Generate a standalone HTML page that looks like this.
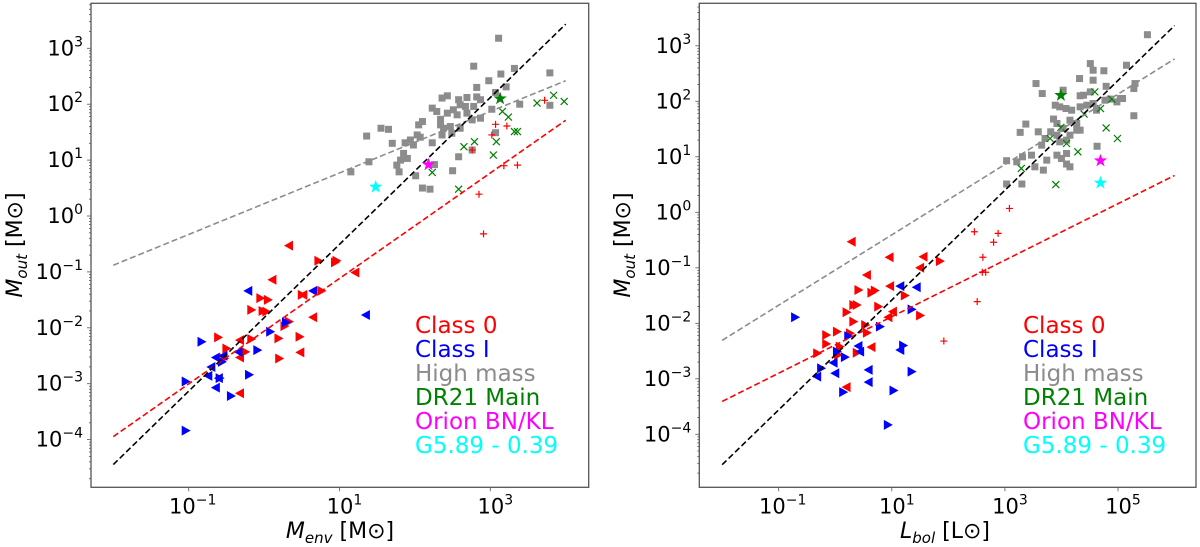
<!DOCTYPE html>
<html><head><meta charset="utf-8"><style>
html,body{margin:0;padding:0;background:#fff;}
svg{display:block;font-family:"DejaVu Sans","Liberation Sans",sans-serif;}
</style></head><body>
<svg id="chart" width="1200" height="547" viewBox="0 0 1200 547"></svg>
<script>
// ---------- Data (log10 values) ----------
// Left panel: M_out vs M_env
const hmEnvX=[3.11,2.78,3.14,3.32,3.79,2.98,2.82,3.21,3.07,2.43,2.36,2.58,2.69,2.82,2.60,2.51,2.67,2.78,2.87,2.23,2.29,2.43,2.56,2.69,2.87,3.02,3.39,3.79,1.55,1.65,2.05,2.10,2.34,2.38,2.47,2.60,1.36,1.70,1.87,1.94,2.03,2.07,2.23,2.36,2.49,3.07,1.98,1.85,1.90,1.76,1.81,1.39,1.15,1.79,2.26,2.01,2.50,2.58,2.76,2.10,2.20,2.34,2.76];
const hmEnvY=[3.18,2.68,2.54,2.64,2.56,2.42,2.30,2.31,2.21,2.15,2.11,2.08,2.12,2.13,1.99,1.90,1.96,1.96,2.08,1.93,1.87,1.84,1.81,1.84,1.75,1.91,2.00,1.98,1.57,1.55,1.63,1.69,1.63,1.57,1.60,1.57,1.43,1.30,1.31,1.36,1.45,1.41,1.31,1.45,1.48,1.49,1.27,1.12,1.03,0.91,1.00,0.97,0.79,0.79,0.92,0.72,0.81,1.06,1.18,0.50,0.48,1.73,1.72];
const dr21EnvX=[2.65,2.79,2.23,3.04,3.08,3.16,3.24,3.32,3.36,3.62,3.84,3.98,2.58];
const dr21EnvY=[1.24,1.33,0.78,1.09,1.33,1.87,1.77,1.51,1.51,2.02,2.16,2.05,0.48];
const plusEnvX=[3.07,3.22,3.02,2.76,3.18,3.36,2.85,2.91,3.72];
const plusEnvY=[1.64,1.61,1.45,1.18,0.90,0.91,0.39,-0.32,2.07];
const c0EnvX=[0.33,0.72,0.94,0.96,1.21,0.11,0.50,0.52,0.76,-0.05,0.05,-0.17,-0.02,0.03,0.65,0.27,0.33,-0.61,-0.32,-0.17,0.19,0.47,-0.50,-0.32,-0.25,0.20,0.48,-0.32,-0.53];
const c0EnvY=[-0.53,-0.80,-0.83,-0.80,-1.01,-1.14,-1.41,-1.41,-1.34,-1.47,-1.50,-1.68,-1.70,-1.71,-1.81,-1.97,-1.89,-2.17,-2.22,-2.20,-2.19,-2.16,-2.37,-2.53,-2.43,-2.55,-2.44,-3.17,-2.55];
const c0EnvDir=['L','R','R','R','L','L','R','L','R','R','R','R','R','R','L','R','R','R','L','R','R','R','R','L','R','R','L','L','R'];
const c1EnvX=[-0.21,0.65,1.35,0.29,0.08,-0.83,-0.64,-0.54,-0.34,-0.09,-0.70,-0.56,-0.74,-0.59,-0.60,-0.20,-0.64,-0.44,-1.04,-1.04];
const c1EnvY=[-1.34,-1.34,-1.77,-1.90,-2.07,-2.25,-2.53,-2.50,-2.43,-2.40,-2.70,-2.61,-2.86,-2.90,-2.90,-2.84,-3.07,-3.22,-2.96,-3.84];
const c1EnvDir=['L','L','L','R','R','R','L','L','L','R','L','R','L','R','L','R','L','R','R','R'];
const starsEnvX=[3.13,2.18,1.48];
const starsEnvY=[2.10,0.92,0.52];
// fits: [slope, intercept]
const fitEnvAll=[1.313,-1.82];
const fitEnvLow=[0.943,-2.06];
const fitEnvHigh=[0.55,0.22];

// Right panel: M_out vs L_bol
const hmLbolX=[5.52,4.51,4.56,4.75,5.15,4.32,3.55,3.66,4.03,4.79,5.30,5.28,4.33,4.51,4.39,3.89,3.97,4.08,4.33,4.45,4.56,4.77,4.86,4.98,5.08,4.62,4.18,5.28,3.37,3.86,3.92,4.03,4.15,4.27,4.33,3.27,3.59,3.81,3.92,4.15,4.27,3.71,3.65,3.97,4.09,3.31,3.47,3.03,3.21,3.92,4.09,4.00,4.09,4.15,3.53,3.68,3.74,4.63,3.03,3.30,4.56,5.04];
const hmLbolY=[3.20,2.68,2.56,2.55,2.65,2.41,2.32,2.14,2.20,2.27,2.32,2.23,2.10,2.17,2.11,1.93,1.90,1.87,1.90,1.93,1.96,2.02,2.04,1.99,2.05,1.84,1.84,1.74,1.59,1.68,1.60,1.51,1.66,1.60,1.48,1.44,1.45,1.45,1.39,1.39,1.48,1.33,1.21,1.27,1.30,1.00,1.03,0.93,0.91,1.03,1.06,0.97,0.87,0.82,0.82,0.76,0.94,1.19,0.51,0.51,2.38,2.05];
const dr21LbolX=[4.59,4.89,4.69,4.40,3.99,3.80,4.09,4.79,4.99,4.29,3.29,3.90];
const dr21LbolY=[2.17,2.04,1.87,1.77,1.53,1.33,1.24,1.52,1.33,1.09,0.79,0.50];
const plusLbolX=[1.92,2.51,2.60,2.66,2.61,2.80,2.88,2.46,3.08];
const plusLbolY=[-2.32,-1.61,-1.08,-1.08,-0.81,-0.54,-0.38,-0.35,0.07];
const c0LbolX=[0.29,0.96,1.56,1.85,1.50,0.56,0.41,0.64,0.70,0.97,1.23,0.32,0.38,0.20,0.76,1.02,0.94,1.50,0.32,0.53,-0.16,0.03,0.26,0.56,-0.16,0.08,0.64,0.38,-0.32,0.20,0.05];
const c0LbolY=[-0.53,-0.81,-0.80,-0.88,-1.00,-1.13,-1.40,-1.45,-1.41,-1.33,-1.50,-1.67,-1.67,-1.80,-1.70,-1.79,-1.89,-1.86,-1.97,-2.03,-2.21,-2.15,-2.18,-2.17,-2.37,-2.42,-2.43,-2.53,-2.54,-3.15,-2.57];
const c0LbolDir=['L','L','L','R','L','L','R','R','R','L','R','R','R','R','R','L','L','R','R','R','R','R','R','R','R','R','L','R','R','L','R'];
const c1LbolX=[-0.71,1.15,1.44,1.35,0.79,0.23,0.41,0.44,0.03,0.17,-0.03,1.20,1.15,-0.25,-0.32,0.00,0.59,0.59,1.35,0.14,1.03,0.93];
const c1LbolY=[-1.89,-1.33,-1.35,-1.75,-2.06,-2.23,-2.41,-2.51,-2.51,-2.61,-2.71,-2.40,-2.48,-2.81,-2.96,-2.90,-2.84,-3.06,-2.87,-3.24,-3.21,-3.83];
const c1LbolDir=['R','L','L','R','R','R','L','L','R','R','L','R','L','R','L','L','L','L','R','R','R','R'];
const starsLbolX=[3.99,4.69,4.69];
const starsLbolY=[2.11,0.93,0.53];
const fitLbolAll=[0.989,-2.57];
const fitLbolLow=[0.509,-2.39];
const fitLbolHigh=[0.634,-1.04];

const xTicksEnv=[-1,1,3];
const xTicksLbol=[-1,1,3,5];
const yTicks=[-4,-3,-2,-1,0,1,2,3];
const legendLabels=['Class 0','Class I','High mass','DR21 Main','Orion BN/KL','G5.89 - 0.39'];
const legendColors=['#ff0000','#0000ff','#8c8c8c','#008000','#ff00ff','#00ffff'];
const starColors=['#008000','#ff00ff','#00ffff'];

const NS='http://www.w3.org/2000/svg';
const svg=document.getElementById('chart');
function mk(tag,attrs,parent){const e=document.createElementNS(NS,tag);for(const k in attrs)e.setAttribute(k,attrs[k]);(parent||svg).appendChild(e);return e;}

function axisFns(p){
  const sx=v=>p.x0+(v-p.xmin)/(p.xmax-p.xmin)*(p.x1-p.x0);
  const sy=v=>p.y1-(v-p.ymin)/(p.ymax-p.ymin)*(p.y1-p.y0);
  return [sx,sy];
}
function starPath(cx,cy,r){let d='';for(let i=0;i<10;i++){const rr=i%2?r*0.4:r;const a=-Math.PI/2+i*Math.PI/5;d+=(i?'L':'M')+(cx+rr*Math.cos(a)).toFixed(2)+','+(cy+rr*Math.sin(a)).toFixed(2);}return d+'Z';}

function drawPanel(p){
  const [sx,sy]=axisFns(p);
  const g=mk('g',{});
  
  
  const clipId='clip-'+p.name;
  const cp=mk('clipPath',{id:clipId},g);
  mk('rect',{x:p.x0,y:p.y0,width:p.x1-p.x0,height:p.y1-p.y0},cp);
  const plot=mk('g',{'clip-path':'url(#'+clipId+')'},g);
  
  
  // gray squares
  p.hmX.forEach((v,i)=>{const s=mk('rect',{x:sx(v)-3.5,y:sy(p.hmY[i])-3.5,width:7,height:7,fill:'#8c8c8c'},plot);
    
    });
  // dr21 x
  p.drX.forEach((v,i)=>{const cx=sx(v),cy=sy(p.drY[i]);const e=mk('path',{d:`M${cx-3.5},${cy-3.5}L${cx+3.5},${cy+3.5}M${cx-3.5},${cy+3.5}L${cx+3.5},${cy-3.5}`,stroke:'#008000','stroke-width':1.2,fill:'none'},plot);
    
    });
  // plus
  p.plX.forEach((v,i)=>{const cx=sx(v),cy=sy(p.plY[i]);const e=mk('path',{d:`M${cx-3.5},${cy}L${cx+3.5},${cy}M${cx},${cy-3.5}L${cx},${cy+3.5}`,stroke:'#ff0000','stroke-width':1.2,fill:'none'},plot);
    
    });
  // triangles
  function tri(xs,ys,ds,col,nm){xs.forEach((v,i)=>{const cx=sx(v),cy=sy(ys[i]);const s=ds[i]==='R'?1:-1;
    const e=mk('path',{d:`M${cx+5*s},${cy}L${cx-4*s},${cy-5}L${cx-4*s},${cy+5}Z`,fill:col},plot);
    
    });}
  tri(p.c0X,p.c0Y,p.c0D,'#ff0000','class0-point');
  tri(p.c1X,p.c1Y,p.c1D,'#0000ff','class1-point');
  // fit lines
  function fit(f,col,nm){const a=-2,b=p.fitEnd;const e=mk('line',{x1:sx(a),y1:sy(f[0]*a+f[1]),x2:sx(b),y2:sy(f[0]*b+f[1]),stroke:col,'stroke-width':1.6,'stroke-dasharray':'6,3'},plot);
    
    }
  fit(p.fHigh,'#8c8c8c','fit-high-mass');
  fit(p.fLow,'#ff0000','fit-low-mass');
  fit(p.fAll,'#000000','fit-all');
  // stars
  p.stX.forEach((v,i)=>{const e=mk('path',{d:starPath(sx(v),sy(p.stY[i]),7),fill:starColors[i]},plot);
    
    });
  // frame
  const fr=mk('rect',{x:p.x0,y:p.y0,width:p.x1-p.x0,height:p.y1-p.y0,fill:'none',stroke:'#555','stroke-width':1.3},g);
  
  
  // y ticks
  for(let d=Math.floor(p.ymin);d<=Math.ceil(p.ymax);d++){
    for(let m=1;m<10;m++){const v=d+Math.log10(m);if(v<p.ymin||v>p.ymax)continue;const y=sy(v);
      mk('line',{x1:p.x0,x2:p.x0-(m===1?4:2),y1:y,y2:y,stroke:'#555','stroke-width':0.8},g);}
  }
  yTicks.forEach(t=>{const y=sy(t);const tx=mk('text',{x:p.x0-8,y:y+7,'text-anchor':'end','font-size':21,fill:'#000'},g);
    
    
    tx.appendChild(document.createTextNode('10'));
    const ts=mk('tspan',{dy:-9,'font-size':14},tx);ts.textContent=t<0?'\u2212'+(-t):String(t);});
  p.xTicks.forEach(t=>{const x=sx(t);mk('line',{x1:x,x2:x,y1:p.y1,y2:p.y1+4,stroke:'#555','stroke-width':0.8},g);
    const tx=mk('text',{x:x+(t<0?4:5),y:p.y1+26,'text-anchor':'middle','font-size':21,fill:'#000'},g);
    
    
    tx.appendChild(document.createTextNode('10'));
    const ts=mk('tspan',{dy:-9,'font-size':14},tx);ts.textContent=t<0?'\u2212'+(-t):String(t);});
  // axis titles
  const xt=mk('text',{x:p.xTitleX,y:538,'text-anchor':'middle','font-size':22,fill:'#000'},g);
  
  
  const a1=mk('tspan',{'font-style':'italic'},xt);a1.textContent=p.xVar;
  const a2=mk('tspan',{'font-style':'italic','font-size':15,dy:5},xt);a2.textContent=p.xSub;
  const a3=mk('tspan',{dy:-5},xt);a3.textContent=' ['+p.xUnit+'\u2299]';
  const yt=mk('text',{x:0,y:0,'text-anchor':'middle','font-size':22,fill:'#000',transform:`translate(${p.yTitleX},245) rotate(-90)`},g);
  
  
  const b1=mk('tspan',{'font-style':'italic'},yt);b1.textContent='M';
  const b2=mk('tspan',{'font-style':'italic','font-size':15,dy:5},yt);b2.textContent='out';
  const b3=mk('tspan',{dy:-5},yt);b3.textContent=' [M\u2299]';
  // legend
  const lg=mk('g',{},g);
  
  
  legendLabels.forEach((l,i)=>{const t=mk('text',{x:p.legX,y:333+i*24,'font-size':23,fill:legendColors[i]},lg);t.textContent=l;
    
    });
}

drawPanel({name:'menv-panel',x0:91,x1:588.7,y0:3.3,y1:487.3,xmin:-2.296,xmax:4.305,ymin:-4.853,ymax:3.805,
  hmX:hmEnvX,hmY:hmEnvY,drX:dr21EnvX,drY:dr21EnvY,plX:plusEnvX,plY:plusEnvY,
  c0X:c0EnvX,c0Y:c0EnvY,c0D:c0EnvDir,c1X:c1EnvX,c1Y:c1EnvY,c1D:c1EnvDir,stX:starsEnvX,stY:starsEnvY,
  fAll:fitEnvAll,fLow:fitEnvLow,fHigh:fitEnvHigh,fitEnd:4,xTicks:xTicksEnv,
  xTitleX:340,xVar:'M',xSub:'env',xUnit:'M',yTitleX:22,legX:415});
drawPanel({name:'lbol-panel',x0:699.3,x1:1196,y0:3.3,y1:487.3,xmin:-2.404,xmax:6.379,ymin:-4.955,ymax:3.766,
  hmX:hmLbolX,hmY:hmLbolY,drX:dr21LbolX,drY:dr21LbolY,plX:plusLbolX,plY:plusLbolY,
  c0X:c0LbolX,c0Y:c0LbolY,c0D:c0LbolDir,c1X:c1LbolX,c1Y:c1LbolY,c1D:c1LbolDir,stX:starsLbolX,stY:starsLbolY,
  fAll:fitLbolAll,fLow:fitLbolLow,fHigh:fitLbolHigh,fitEnd:6,xTicks:xTicksLbol,
  xTitleX:945,xVar:'L',xSub:'bol',xUnit:'L',yTitleX:630,legX:1023});
</script>
</body></html>
